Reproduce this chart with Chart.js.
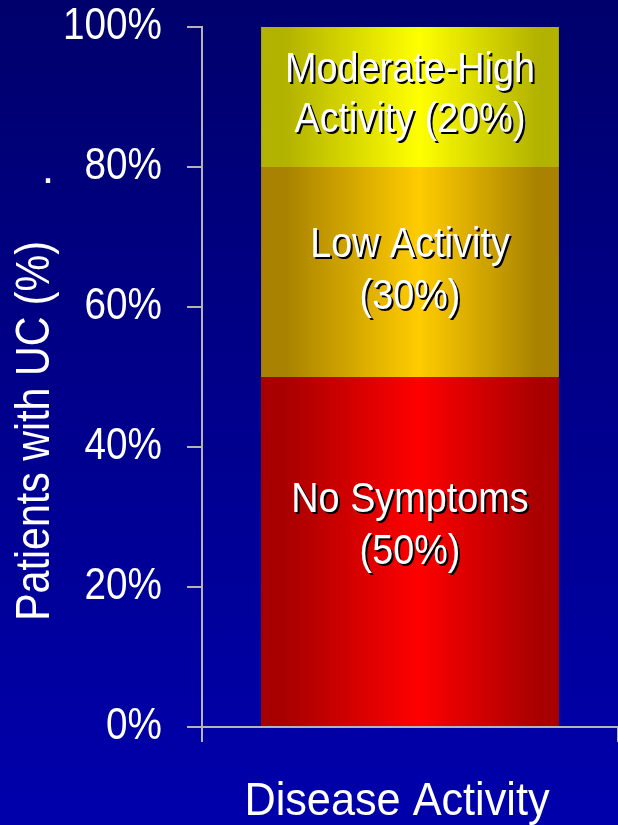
<!DOCTYPE html>
<html>
<head>
<meta charset="utf-8">
<script src="https://cdn.jsdelivr.net/npm/chart.js@4/dist/chart.umd.min.js"></script>
<style>
  html, body { margin: 0; padding: 0; background: #00008c; }
  #wrap { width: 618px; height: 825px; }
</style>
</head>
<body>
<div id="wrap"><canvas id="chart" width="618" height="825"></canvas></div>
<script>
// Category and stacked segment data
const categories = ['Disease Activity'];
const segmentNames = ['No Symptoms', 'Low Activity', 'Moderate-High Activity'];
const segmentValues = [50, 30, 20];
// Label text inside each segment; {v} is replaced by the segment value
const segmentLabelLines = [
  ['No Symptoms', '({v}%)'],
  ['Low Activity', '({v}%)'],
  ['Moderate-High', 'Activity ({v}%)']
];
const yTickValues = [0, 20, 40, 60, 80, 100];
const yAxisTitle = 'Patients with UC (%)';

const FONT = "'Liberation Sans', Arial, sans-serif";
const AXIS_GRAY = '#b4b4b4';
const BAR_SHARE = 0.716;

// Horizontal squeeze factors giving a narrow typeface look
const TICK_STRETCH = 0.86;
const YTITLE_STRETCH = 0.84;
const SEG_STRETCH = 0.9;
const XTITLE_STRETCH = 0.94;

// Edge / centre colours of each segment's horizontal shading
const segmentShades = [
  { edge: '#a80000', mid: '#ff0000' },
  { edge: '#a88200', mid: '#ffcc00' },
  { edge: '#b2b200', mid: '#ffff00' }
];
// Vertical nudge (px) and line spacing of each segment's label block
const labelNudge = [-25, -1, -2];
const labelSpacing = [52, 52, 50];

// Linear scale whose tick labels are drawn horizontally condensed
class NarrowLinearScale extends Chart.LinearScale {
  drawLabels(chartArea) {
    const ctx = this.ctx;
    const px = this.right - this.options.grid.tickLength - this.options.ticks.padding;
    ctx.save();
    ctx.translate(px, 0);
    ctx.scale(TICK_STRETCH, 1);
    ctx.translate(-px, 0);
    super.drawLabels(chartArea);
    ctx.restore();
  }
}
NarrowLinearScale.id = 'narrowLinear';
NarrowLinearScale.defaults = Chart.LinearScale.defaults;
Chart.register(NarrowLinearScale);

function barFill(idx) {
  return function (ctx) {
    const chart = ctx.chart;
    const xs = chart.scales.x;
    if (!chart.chartArea || !xs) return segmentShades[idx].mid;
    const cx = xs.getPixelForValue(0);
    const half = xs.width * BAR_SHARE / 2;
    const g = chart.ctx.createLinearGradient(cx - half, 0, cx + half, 0);
    const s = segmentShades[idx];
    g.addColorStop(0, s.edge);
    g.addColorStop(0.08, s.edge);
    g.addColorStop(0.53, s.mid);
    g.addColorStop(0.93, s.edge);
    g.addColorStop(1, s.edge);
    return g;
  };
}

function squeezedText(ctx, text, x, y, k) {
  ctx.save();
  ctx.translate(x, y);
  ctx.scale(k, 1);
  ctx.fillText(text, 0, 0);
  ctx.restore();
}

const backdrop = {
  id: 'backdrop',
  beforeDraw(chart) {
    const { ctx, width, height } = chart;
    const g = ctx.createLinearGradient(0, 0, 0, height);
    g.addColorStop(0, '#00006c');
    g.addColorStop(1, '#0000ac');
    ctx.save();
    ctx.fillStyle = g;
    ctx.fillRect(0, 0, width, height);
    ctx.restore();
  }
};

const segmentText = {
  id: 'segmentText',
  afterDatasetsDraw(chart) {
    const { ctx } = chart;
    ctx.save();
    ctx.font = '42px ' + FONT;
    ctx.textAlign = 'center';
    ctx.textBaseline = 'middle';
    chart.data.datasets.forEach((ds, i) => {
      const el = chart.getDatasetMeta(i).data[0];
      if (!el) return;
      const lines = segmentLabelLines[i].map(t => t.replace('{v}', ds.data[0]));
      const lh = labelSpacing[i];
      const cy = (el.y + el.base) / 2 + labelNudge[i];
      lines.forEach((t, k) => {
        const y = cy + (k - (lines.length - 1) / 2) * lh;
        ctx.fillStyle = '#000000';
        squeezedText(ctx, t, el.x + 2, y + 2, SEG_STRETCH);
        ctx.fillStyle = '#ffffff';
        squeezedText(ctx, t, el.x, y, SEG_STRETCH);
      });
    });
    ctx.restore();
  }
};

const axisTitles = {
  id: 'axisTitles',
  afterDraw(chart) {
    const { ctx, chartArea } = chart;
    // vertical axis title
    ctx.save();
    ctx.fillStyle = '#ffffff';
    ctx.font = '49px ' + FONT;
    ctx.translate(35, chartArea.bottom - 296);
    ctx.rotate(-Math.PI / 2);
    ctx.scale(YTITLE_STRETCH, 1);
    ctx.textAlign = 'center';
    ctx.textBaseline = 'middle';
    ctx.fillText(yAxisTitle, 0, 0);
    ctx.restore();
    // small stray dot beside the 80% tick
    ctx.save();
    ctx.fillStyle = '#ffffff';
    ctx.font = '45px ' + FONT;
    ctx.textAlign = 'center';
    ctx.textBaseline = 'alphabetic';
    ctx.fillText('.', 48, chart.scales.y.getPixelForValue(80) + 16);
    ctx.restore();
    // category axis title
    ctx.save();
    ctx.fillStyle = '#ffffff';
    ctx.font = '46px ' + FONT;
    ctx.textAlign = 'center';
    ctx.textBaseline = 'alphabetic';
    const cx = (chartArea.left + chartArea.right) / 2 - 13;
    squeezedText(ctx, categories[0], cx, chartArea.bottom + 88, XTITLE_STRETCH);
    ctx.restore();
  }
};

new Chart(document.getElementById('chart'), {
  type: 'bar',
  data: {
    labels: categories,
    datasets: segmentNames.map((name, i) => ({
      label: name,
      data: [segmentValues[i]],
      backgroundColor: barFill(i),
      borderWidth: 0,
      barPercentage: BAR_SHARE,
      categoryPercentage: 1
    }))
  },
  options: {
    responsive: false,
    animation: false,
    devicePixelRatio: 1,
    layout: { padding: 0 },
    plugins: { legend: { display: false }, tooltip: { enabled: false } },
    scales: {
      x: {
        stacked: true,
        afterFit(scale) {
          scale.height = 98;
          scale.paddingLeft = 0;
          scale.paddingRight = 0;
        },
        grid: {
          offset: true,
          drawOnChartArea: false,
          drawTicks: true,
          tickLength: 15,
          color: AXIS_GRAY,
          lineWidth: 2
        },
        border: { display: true, color: AXIS_GRAY, width: 2 },
        ticks: { display: false }
      },
      y: {
        type: 'narrowLinear',
        stacked: true,
        min: 0,
        max: 100,
        afterFit(scale) {
          scale.width = 202;
          scale.paddingTop = 27;
          scale.paddingBottom = 0;
        },
        afterBuildTicks(scale) { scale.ticks = yTickValues.map(v => ({ value: v })); },
        grid: {
          drawOnChartArea: false,
          drawTicks: true,
          tickLength: 15,
          color: AXIS_GRAY,
          lineWidth: 2
        },
        border: { display: true, color: AXIS_GRAY, width: 2 },
        ticks: {
          color: '#ffffff',
          padding: 25,
          font: { family: FONT, size: 45, lineHeight: 1.2 },
          callback: v => v + '%'
        }
      }
    }
  },
  plugins: [backdrop, segmentText, axisTitles]
});
</script>
</body>
</html>
